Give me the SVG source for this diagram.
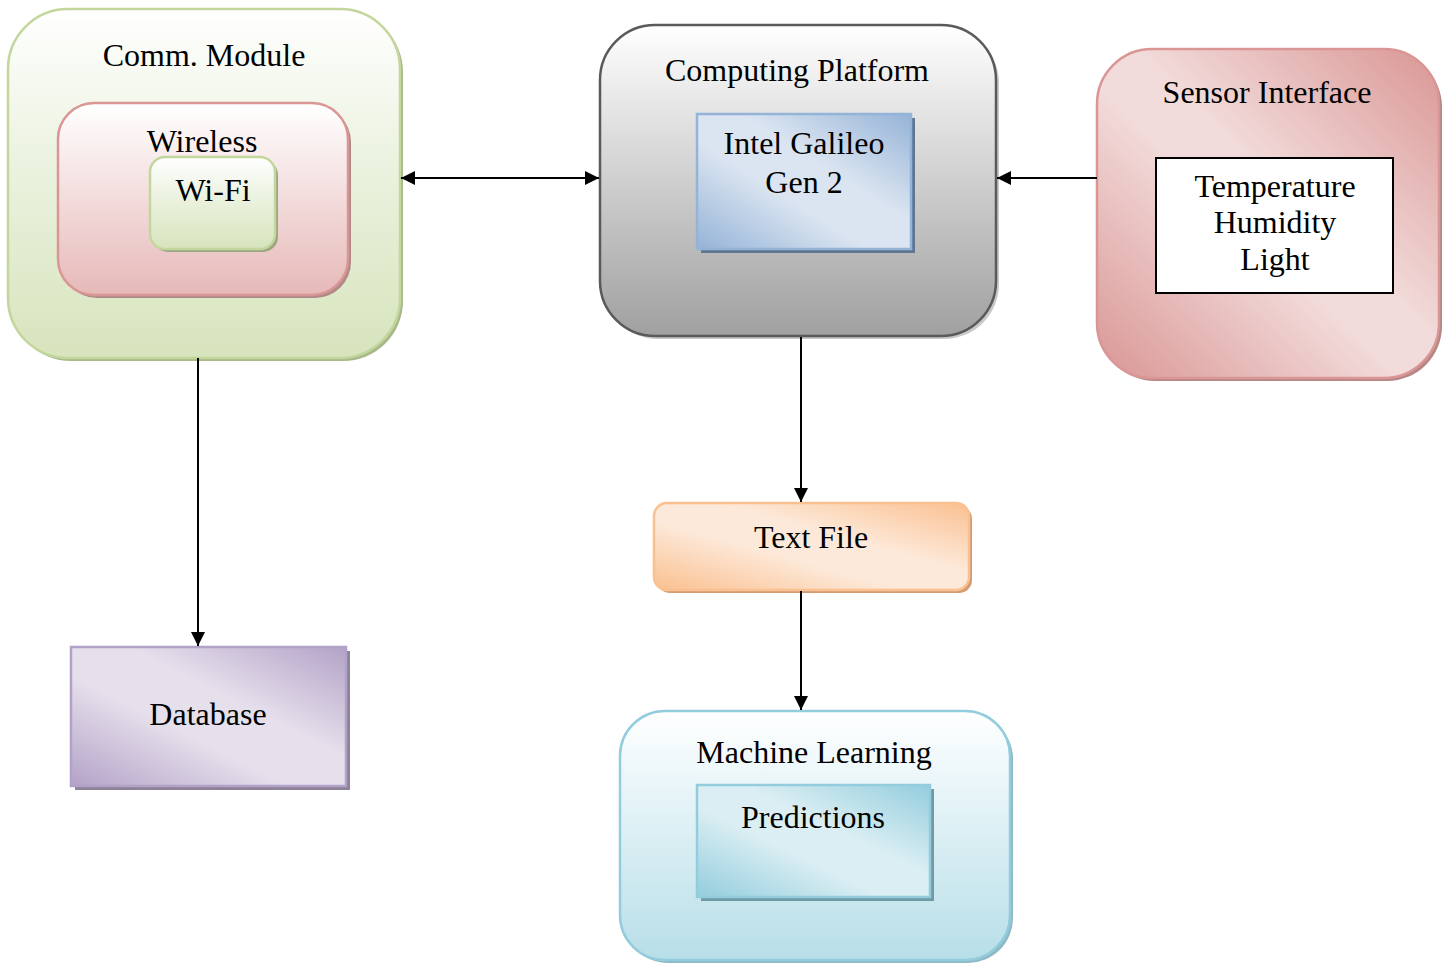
<svg xmlns="http://www.w3.org/2000/svg" width="1445" height="964" viewBox="0 0 1445 964">
  <defs>
    <linearGradient id="gGreen" x1="0" y1="0" x2="0" y2="1">
      <stop offset="0" stop-color="#ffffff"/>
      <stop offset="0.45" stop-color="#ebf2df"/>
      <stop offset="1" stop-color="#d7e4bd"/>
    </linearGradient>
    <linearGradient id="gRed" x1="0" y1="0" x2="0" y2="1">
      <stop offset="0" stop-color="#ffffff"/>
      <stop offset="0.5" stop-color="#f3dcdc"/>
      <stop offset="1" stop-color="#e6b9b8"/>
    </linearGradient>
    <linearGradient id="gGray" x1="0" y1="0" x2="0" y2="1">
      <stop offset="0" stop-color="#ffffff"/>
      <stop offset="0.5" stop-color="#cfcfcf"/>
      <stop offset="1" stop-color="#a0a0a0"/>
    </linearGradient>
    <linearGradient id="gCyan" x1="0" y1="0" x2="0" y2="1">
      <stop offset="0" stop-color="#ffffff"/>
      <stop offset="0.5" stop-color="#dbeff4"/>
      <stop offset="1" stop-color="#b7dee8"/>
    </linearGradient>
    <linearGradient id="gBlue" x1="0" y1="1" x2="1" y2="0">
      <stop offset="0" stop-color="#95b3d7"/>
      <stop offset="0.4" stop-color="#dbe5f1"/>
      <stop offset="0.6" stop-color="#dbe5f1"/>
      <stop offset="1" stop-color="#95b3d7"/>
    </linearGradient>
    <linearGradient id="gPink" x1="0" y1="1" x2="1" y2="0">
      <stop offset="0" stop-color="#d99694"/>
      <stop offset="0.45" stop-color="#f2dcdb"/>
      <stop offset="0.55" stop-color="#f2dcdb"/>
      <stop offset="1" stop-color="#d99694"/>
    </linearGradient>
    <linearGradient id="gOrange" x1="0" y1="1" x2="1" y2="0">
      <stop offset="0" stop-color="#fac090"/>
      <stop offset="0.4" stop-color="#fde9d9"/>
      <stop offset="0.6" stop-color="#fde9d9"/>
      <stop offset="1" stop-color="#fac090"/>
    </linearGradient>
    <linearGradient id="gPurple" x1="0" y1="1" x2="1" y2="0">
      <stop offset="0" stop-color="#b3a2c7"/>
      <stop offset="0.4" stop-color="#e6e0ec"/>
      <stop offset="0.6" stop-color="#e6e0ec"/>
      <stop offset="1" stop-color="#b3a2c7"/>
    </linearGradient>
    <linearGradient id="gTeal" x1="0" y1="1" x2="1" y2="0">
      <stop offset="0" stop-color="#93cddd"/>
      <stop offset="0.4" stop-color="#daeef3"/>
      <stop offset="0.6" stop-color="#daeef3"/>
      <stop offset="1" stop-color="#93cddd"/>
    </linearGradient>
    <marker id="arrow" viewBox="0 0 10 10" refX="10" refY="5" markerWidth="15" markerHeight="14" markerUnits="userSpaceOnUse" orient="auto-start-reverse">
      <path d="M0,0 L10,5 L0,10 z" fill="#000"/>
    </marker>
  </defs>
  <style>
    text { font-family: "Liberation Serif", "Times New Roman", serif; font-size: 32px; fill: #000; text-anchor: middle; }
    .conn { stroke: #000; stroke-width: 2; fill: none; }
  </style>

  <rect width="1445" height="964" fill="#ffffff"/>

  <!-- Communication module with nested wireless / Wi-Fi boxes -->
  <g id="comm-module">
    <rect x="11" y="12" width="392" height="349" rx="60" fill="#a9b98a"/>
    <rect x="8" y="9" width="392" height="349" rx="60" fill="url(#gGreen)" stroke="#c3d69b" stroke-width="2.5"/>
    <text x="204" y="66">Comm. Module</text>
  </g>
  <g id="wireless">
    <rect x="61" y="106" width="290" height="192" rx="36" fill="#b08a89"/>
    <rect x="58" y="103" width="290" height="192" rx="36" fill="url(#gRed)" stroke="#d99694" stroke-width="2.5"/>
    <text x="202" y="152">Wireless</text>
  </g>
  <g id="wifi">
    <rect x="153" y="160" width="125" height="92" rx="15" fill="#9aa683"/>
    <rect x="150" y="157" width="125" height="92" rx="15" fill="url(#gGreen)" stroke="#c3d69b" stroke-width="2.5"/>
    <text x="213" y="201">Wi-Fi</text>
  </g>

  <!-- Computing platform -->
  <g id="computing-platform">
    <rect x="603" y="28" width="396" height="311" rx="55" fill="#c9c9c9"/>
    <rect x="600" y="25" width="396" height="311" rx="55" fill="url(#gGray)" stroke="#5a5a5a" stroke-width="2.5"/>
    <text x="797" y="81">Computing Platform</text>
  </g>
  <g id="intel-galileo">
    <rect x="701" y="118" width="214" height="135" fill="#5f7693"/>
    <rect x="697" y="114" width="214" height="135" fill="url(#gBlue)" stroke="#95b3d7" stroke-width="2.5"/>
    <text x="804" y="154">Intel Galileo</text>
    <text x="804" y="193">Gen 2</text>
  </g>

  <!-- Sensor interface -->
  <g id="sensor-interface">
    <rect x="1100" y="52" width="342" height="329" rx="55" fill="#b58886"/>
    <rect x="1097" y="49" width="342" height="329" rx="55" fill="url(#gPink)" stroke="#d99694" stroke-width="2.5"/>
    <text x="1267" y="103">Sensor Interface</text>
  </g>
  <g id="sensors">
    <rect x="1156" y="158" width="237" height="135" fill="#ffffff" stroke="#000" stroke-width="2"/>
    <text x="1275" y="197">Temperature</text>
    <text x="1275" y="233">Humidity</text>
    <text x="1275" y="270">Light</text>
  </g>

  <!-- Text file -->
  <g id="text-file">
    <rect x="657" y="506" width="315" height="87" rx="13" fill="#d39d74"/>
    <rect x="654" y="503" width="315" height="87" rx="13" fill="url(#gOrange)" stroke="#fac090" stroke-width="2.5"/>
    <text x="811" y="548">Text File</text>
  </g>

  <!-- Database -->
  <g id="database">
    <rect x="75" y="651" width="275" height="139" fill="#8d8296"/>
    <rect x="71" y="647" width="275" height="139" fill="url(#gPurple)" stroke="#b3a2c7" stroke-width="2.5"/>
    <text x="208" y="725">Database</text>
  </g>

  <!-- Machine learning -->
  <g id="machine-learning">
    <rect x="623" y="714" width="390" height="249" rx="45" fill="#8fb9c4"/>
    <rect x="620" y="711" width="390" height="249" rx="45" fill="url(#gCyan)" stroke="#93cddd" stroke-width="2.5"/>
    <text x="814" y="763">Machine Learning</text>
  </g>
  <g id="predictions">
    <rect x="701" y="789" width="233" height="112" fill="#6f9aa6"/>
    <rect x="697" y="785" width="233" height="112" fill="url(#gTeal)" stroke="#93cddd" stroke-width="2.5"/>
    <text x="813" y="828">Predictions</text>
  </g>

  <!-- Connectors -->
  <g id="connectors">
    <line class="conn" x1="401" y1="178" x2="599" y2="178" marker-start="url(#arrow)" marker-end="url(#arrow)"/>
    <line class="conn" x1="1097" y1="178" x2="997" y2="178" marker-end="url(#arrow)"/>
    <line class="conn" x1="198" y1="358" x2="198" y2="646" marker-end="url(#arrow)"/>
    <line class="conn" x1="801" y1="337" x2="801" y2="502" marker-end="url(#arrow)"/>
    <line class="conn" x1="801" y1="591" x2="801" y2="710" marker-end="url(#arrow)"/>
  </g>
</svg>
